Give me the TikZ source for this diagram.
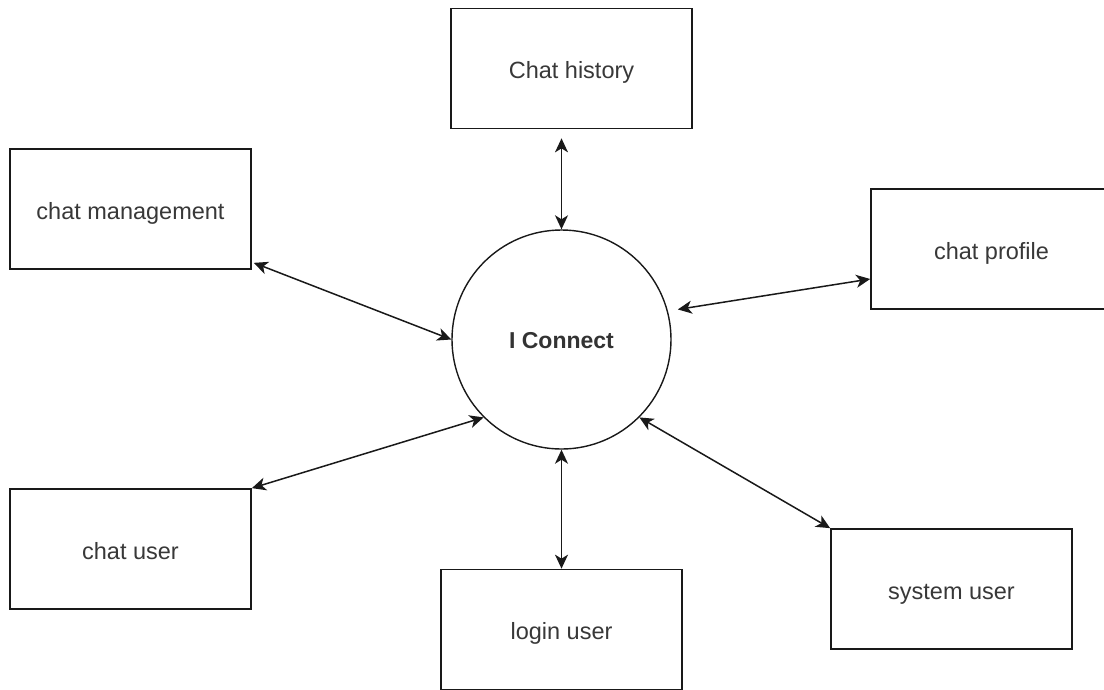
\documentclass[tikz,border=0pt]{standalone}
\usepackage{fontspec}
\setmainfont{Liberation Sans}
\usetikzlibrary{arrows.meta}
\begin{document}
\begin{tikzpicture}[x=1pt,y=-1pt,
  box/.style={draw=black!90, line width=1.7pt, minimum width=241pt, minimum height=120pt, inner sep=0pt,
    text height=25pt, text depth=5pt,
    font=\fontsize{23.5}{28}\selectfont, text=black!78},
  proc/.style={circle, draw=black!90, line width=1.4pt, minimum size=219pt, inner sep=0pt,
    text height=18pt, text depth=0pt,
    font=\bfseries\fontsize{23}{28}\selectfont, text=black!80},
  tip/.tip={Stealth[length=14pt,width=13pt,inset=4pt]},
  biarr/.style={tip-tip, line width=1.5pt, draw=black!90}]
\useasboundingbox (0,0) rectangle (1104,689);
\fill[white] (0,0) rectangle (1104,689);

\node[proc] (conn) at (561.5,339.5) {I Connect};
\node[box] (hist) at (571.5,68.5) {Chat history};
\node[box] (mgmt) at (130.5,209) {chat management};
\node[box] (prof) at (991.5,249) {chat profile};
\node[box] (user) at (130.5,549) {chat user};
\node[box] (login) at (561.5,629.5) {login user};
\node[box] (sys) at (951.5,589) {system user};

\draw[biarr, shorten <=9pt] (conn.north |- hist.south) -- (conn.north);
\draw[biarr] ([xshift=2pt,yshift=7pt]mgmt.south east) -- (conn.west);
\draw[biarr, shorten >=10pt] ([yshift=-30pt]prof.west) -- (conn.15);
\draw[biarr] (user.north east) -- (conn.-135);
\draw[biarr] (conn.south) -- (conn.south |- login.north);
\draw[biarr] (conn.-45) -- (sys.north west);
\end{tikzpicture}
\end{document}
